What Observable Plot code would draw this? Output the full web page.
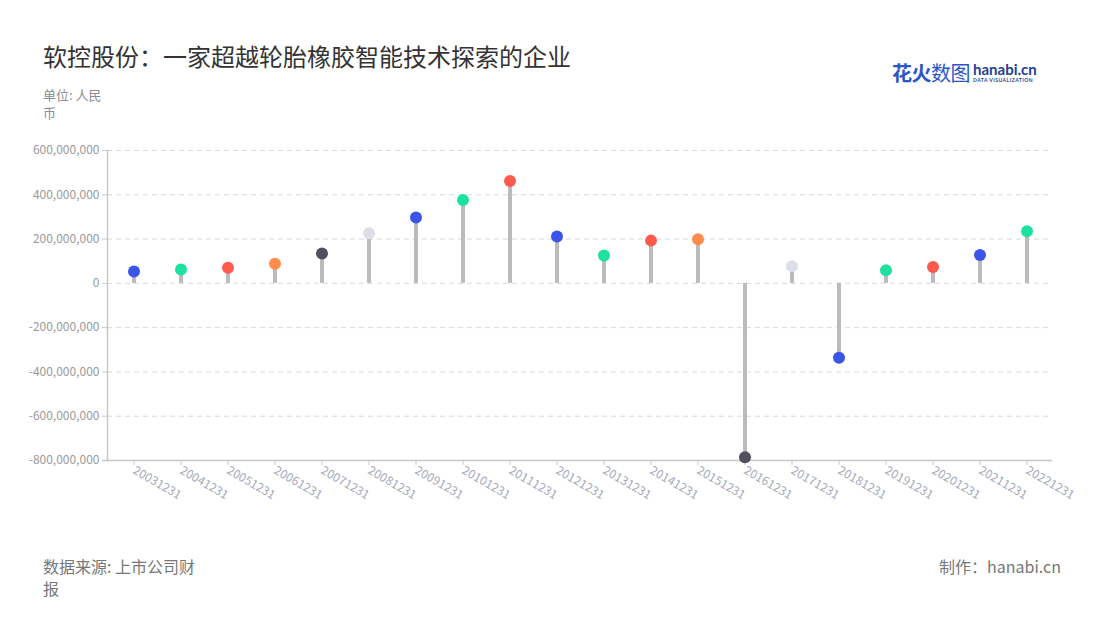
<!DOCTYPE html>
<html>
<head>
<meta charset="utf-8">
<script src="https://cdn.jsdelivr.net/npm/d3@7"></script>
<script src="https://cdn.jsdelivr.net/npm/@observablehq/plot@0.6"></script>
<style>
  html, body { margin: 0; padding: 0; background: #fff; }
  body { font-family: "Noto Sans CJK SC", "Noto Sans", sans-serif; }
  #wrap { position: relative; width: 1100px; height: 620px; overflow: hidden; }
  #title { position: absolute; left: 43px; top: 38px; font-size: 24px; color: #333; white-space: nowrap; }
  #unit { position: absolute; left: 43px; top: 86px; width: 64px; font-size: 13px; line-height: 18px; color: #8a8c99; }
  #source { position: absolute; left: 43px; top: 555px; width: 158px; font-size: 16px; line-height: 22px; color: #777; }
  #maker { position: absolute; right: 39px; top: 555px; font-size: 16px; line-height: 22px; color: #777; }
  #logo { position: absolute; left: 892px; top: 58px; white-space: nowrap; }
  #logo .cn { font-size: 20px; color: #2b55c9; font-weight: 700; letter-spacing: -0.5px; vertical-align: top; }
  #logo .cn2 { font-weight: 400; }
  #logo .en { display: inline-block; margin-left: 3px; vertical-align: top; }
  #logo .en1 { font-family: "Lato", sans-serif; font-size: 15px; font-weight: 700; color: #1f3f95; line-height: 16px; margin-top: 3px; }
  #logo .en2 { font-family: "Lato", sans-serif; font-size: 5px; font-weight: 700; color: #1f3f95; letter-spacing: 0.5px; line-height: 7px; }
  #chart { position: absolute; left: 0; top: 130px; }
</style>
</head>
<body>
<div id="wrap">
  <div id="title">软控股份：一家超越轮胎橡胶智能技术探索的企业</div>
  <div id="unit">单位: 人民币</div>
  <div id="logo"><span class="cn">花火<span class="cn2">数图</span></span><span class="en"><div class="en1">hanabi.cn</div><div class="en2">DATA VISUALIZATION</div></span></div>
  <div id="chart"></div>
  <div id="source">数据来源: 上市公司财报</div>
  <div id="maker">制作：hanabi.cn</div>
</div>
<script>
const categories = ["20031231","20041231","20051231","20061231","20071231","20081231","20091231","20101231","20111231","20121231","20131231","20141231","20151231","20161231","20171231","20181231","20191231","20201231","20211231","20221231"];
const values = [54e6, 63e6, 70e6, 89e6, 135e6, 226e6, 297e6, 376e6, 462e6, 212e6, 126e6, 193e6, 199e6, -785e6, 77e6, -336e6, 59e6, 74e6, 128e6, 235e6];
const palette = ["#3a55e8", "#1ee0a0", "#ff5a4e", "#ff8c4b", "#51515e", "#dcdfe8", "#3a55e8", "#1ee0a0", "#ff5a4e"];
const yTicks = [-800e6, -600e6, -400e6, -200e6, 0, 200e6, 400e6, 600e6];

const data = categories.map((d, i) => ({date: d, value: values[i], color: palette[i % palette.length]}));
const fmt = d => d3.format(",")(d).replace("−", "-");

const plot = Plot.plot({
  width: 1100,
  height: 400,
  marginTop: 20,
  marginBottom: 70,
  marginLeft: 107,
  marginRight: 48,
  style: {fontFamily: '"Noto Sans CJK SC", "Noto Sans", sans-serif', background: "transparent"},
  x: {type: "band", domain: categories, padding: 0, label: null},
  y: {domain: [-800e6, 600e6], label: null},
  color: {type: "identity"},
  marks: [
    Plot.gridY(yTicks, {stroke: "#d9d9d9", strokeOpacity: 1, strokeDasharray: "5,4"}),
    Plot.frame({anchor: "left", stroke: "#c8c8c8", strokeWidth: 1.5}),
    Plot.ruleY([-800e6], {stroke: "#c8c8c8", strokeWidth: 1.5, insetLeft: -5}),
    Plot.axisY(yTicks, {tickFormat: fmt, tickSize: 5, tickPadding: 3, stroke: "#c8c8c8", fill: "#999", fontSize: 12, label: null}),
    Plot.axisX({tickSize: 5, tickPadding: 4, stroke: "#c8c8c8", fill: "#a5a9ba", fontSize: 12, tickRotate: 30, textAnchor: "start", label: null}),
    Plot.ruleX(data, {x: "date", y1: 0, y2: "value", stroke: "#bbbbbb", strokeWidth: 4}),
    Plot.dot(data, {x: "date", y: "value", r: 6, fill: "color", stroke: "none"})
  ]
});
document.getElementById("chart").appendChild(plot);
</script>
</body>
</html>
